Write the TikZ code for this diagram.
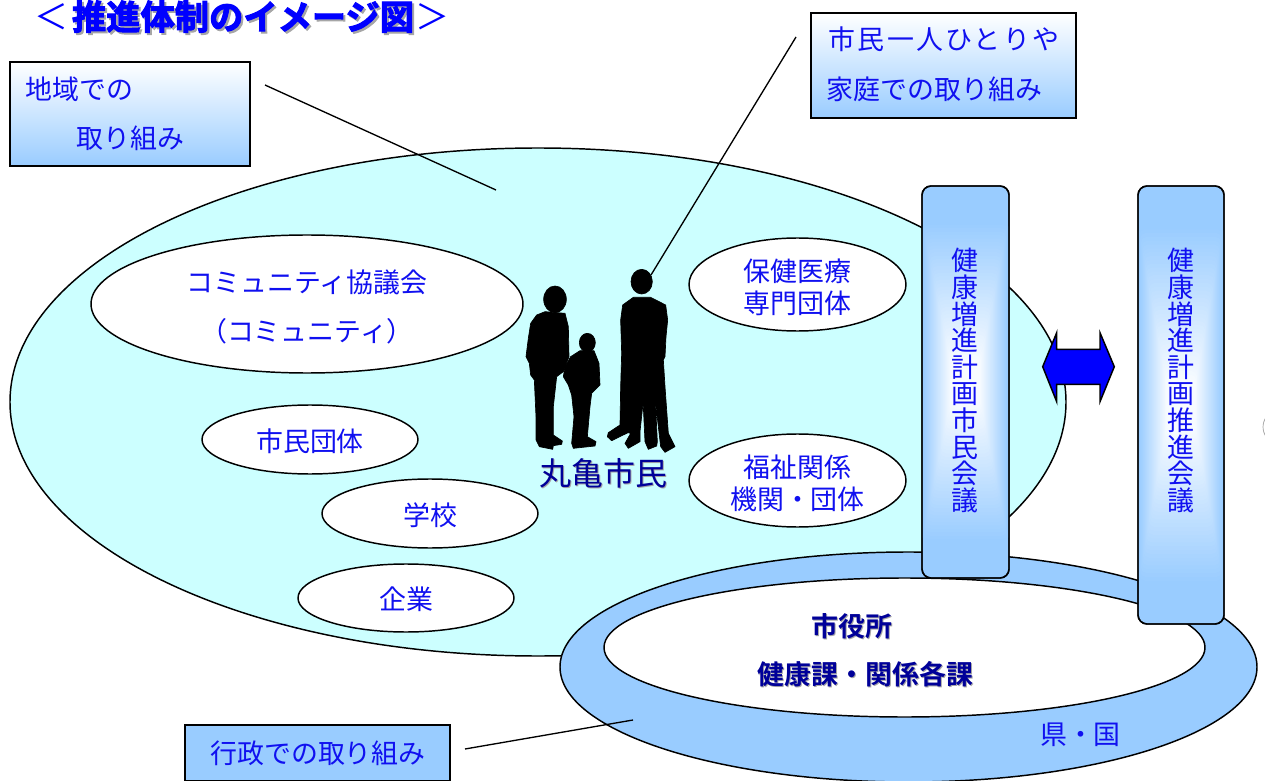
\documentclass[tikz,border=0pt]{standalone}
\usepackage{fontspec}
\setmainfont{Noto Sans CJK JP}
\newfontfamily\boldcjk[FakeBold=3]{Noto Sans CJK JP Bold}
\newfontfamily\semicjk{Noto Sans CJK JP Bold}
\newfontfamily\spacedcjk[LetterSpace=8.5]{Noto Sans CJK JP}
\definecolor{paleblue}{HTML}{99CCFF}
\definecolor{cyanfill}{HTML}{CCFFFF}
\definecolor{textblue}{HTML}{1010F0}
\definecolor{darkblue}{HTML}{000099}
\tikzset{
  x=0.75pt,y=-0.75pt,
  outline/.style={draw=black,line width=1.1pt},
  oval/.style={outline,fill=white},
  tight/.style={execute at begin node={\lineskiplimit=-100pt\lineskip=0pt}},
  label/.style={tight,text=textblue,font=\fontsize{20.2}{24}\selectfont,inner sep=0pt,align=center},
  gradbox/.style={draw=black,line width=1.1pt,top color=white,bottom color=paleblue,middle color=paleblue!50,shading angle=0},
  leader/.style={draw=black,line width=1pt},
  vtext/.style={tight,text=textblue,font=\fontsize{20.2}{19.95}\selectfont,inner sep=0pt,align=center},
  strong/.style={text=darkblue,font=\semicjk\fontsize{20.2}{24}\selectfont,inner sep=0pt,align=center},
  soft/.style={text=black!35,font=\semicjk\fontsize{20.2}{24}\selectfont,inner sep=0pt,align=center},
  figure/.style={fill=black,draw=black,line width=0.5pt,line join=round},
}
\newcommand{\glowbar}[4]{% x0 y0 x1 y1
  \draw[outline,rounded corners=6.75pt,fill=paleblue] (#1,#2) rectangle (#3,#4);
  \foreach \t in {0,1,...,40}{
    \pgfmathsetmacro{\ins}{0.18+\t*0.0175}
    \pgfmathsetmacro{\mixv}{min(100,\t*2.3)}
    \pgfmathsetmacro{\dx}{(#3-#1)/2*(0.02+\t*0.016)}
    \pgfmathsetmacro{\dy}{(#4-#2)/2*\ins}
    \fill[white!\mixv!paleblue,rounded corners=4pt]
      (#1+\dx,#2+\dy) rectangle (#3-\dx,#4-\dy);
  }
  \draw[outline,rounded corners=6.75pt] (#1,#2) rectangle (#3,#4);
}
\begin{document}
\begin{tikzpicture}
\useasboundingbox (0,0) rectangle (1265,781);
\clip (0,0) rectangle (1265,781);

% field ellipse
\draw[outline,fill=cyanfill] (538,402) ellipse [x radius=528,y radius=254];

% ring
\draw[outline,fill=paleblue] (908.5,667) ellipse [x radius=348.5,y radius=115];
\draw[outline,fill=white] (904.5,647.5) ellipse [x radius=300.5,y radius=69.5];

% ovals
\draw[oval] (307,304) ellipse [x radius=216,y radius=69];
\draw[oval] (310,439.5) ellipse [x radius=108,y radius=34.5];
\draw[oval] (430,513.5) ellipse [x radius=108,y radius=34.5];
\draw[oval] (406,598) ellipse [x radius=108,y radius=34];
\draw[oval] (797.5,284.5) ellipse [x radius=108.5,y radius=46.5];
\draw[oval] (797.5,480.5) ellipse [x radius=108.5,y radius=46.5];

\node[label] (t1) at (307,282) {コミュニティ協議会};
\node[label] (t2) at (307,331) {（コミュニティ）};
\node[label] (t3) at (310,441) {市民団体};
\node[label] (t4) at (430,515) {学校};
\node[label] (t5) at (406,599) {企業};
\node[label] (t6) at (797.5,287) {保健医療\\専門団体};
\node[label] (t7) at (797.5,483) {福祉関係\\機関・団体};

% bars
\glowbar{922}{186}{1009}{578}
\glowbar{1138}{186}{1224}{624}
\node[vtext] (v1) at (965,380.5) {健\\康\\増\\進\\計\\画\\市\\民\\会\\議};
\node[vtext] (v2) at (1181,380.5) {健\\康\\増\\進\\計\\画\\推\\進\\会\\議};

% double arrow
\draw[outline,fill=blue] (1042.7,366.7) -- (1056.7,332.7) -- (1056.7,349.3) -- (1100,349.3) -- (1100,332.7) -- (1114.3,366.7) -- (1100,401.7) -- (1100,384.3) -- (1056.7,384.3) -- (1056.7,401.7) -- cycle;

% boxes
\node[gradbox,minimum width=180pt,minimum height=78pt,inner sep=0pt] (b1) at (130,114) {};
\node[gradbox,minimum width=198.75pt,minimum height=78.75pt,inner sep=0pt] (b2) at (943.5,65.5) {};
\node[draw=black,line width=1.1pt,fill=paleblue,minimum width=198.75pt,minimum height=42pt,inner sep=0pt] (b3) at (317.5,753) {};
\node[label] at (79.5,89) {地域での};
\node[label] at (130.5,138) {取り組み};
\node[label,font=\spacedcjk\fontsize{20.2}{24}\selectfont] at (944,39) {市民一人ひとりや};
\node[label] at (934.5,89) {家庭での取り組み};
\node[label] at (318,753) {行政での取り組み};
\node[label] at (1080.5,735) {県・国};

% leaders
\coordinate (l1a) at (265,85); \coordinate (l1b) at (496,190);
\coordinate (l2a) at (796,37); \coordinate (l2b) at (651,275);
\coordinate (l3a) at (465,749); \coordinate (l3b) at (633,720);
\draw[leader] (l1a) -- (l1b);
\draw[leader] (l2a) -- (l2b);
\draw[leader] (l3a) -- (l3b);

% silhouettes
\begin{scope}[shift={(500,260)},x=0.25pt,y=-0.25pt]
\fill[figure] (165,118) ellipse [x radius=34,y radius=40];
\fill[figure] (110,165)--(135,155)--(195,160)--(205,200)--(207,290)--(190,335)--(170,350)--(160,440)--(160,525)--(187,543)--(185,553)--(160,557)--(158,568)--(118,560)--(108,540)--(108,470)--(103,360)--(92,345)--(88,310)--(78,290)--(85,235)--(92,190)--cycle;
\fill[figure] (262,248) ellipse [x radius=24,y radius=28];
\fill[figure] (240,272)--(282,272)--(297,310)--(300,375)--(275,400)--(270,440)--(262,530)--(288,545)--(285,558)--(220,565)--(215,550)--(222,470)--(215,405)--(205,375)--(190,350)--(195,320)--(212,290)--cycle;
\fill[figure] (425,65) ellipse [x radius=32,y radius=37];
\fill[figure] (400,112)--(452,112)--(497,135)--(503,180)--(498,230)--(495,290)--(490,300)--(495,380)--(505,520)--(525,560)--(495,577)--(482,560)--(468,440)--(467,440)--(472,545)--(470,558)--(445,568)--(435,545)--(430,440)--(428,440)--(420,515)--(420,545)--(385,565)--(375,550)--(392,520)--(384,518)--(335,542)--(322,530)--(325,518)--(360,495)--(362,380)--(365,280)--(362,180)--(368,135)--cycle;
\end{scope}

% strong labels
\node[soft,font=\fontsize{24}{28}\selectfont] at (604,474.5) {丸亀市民};
\node[text=darkblue,inner sep=0pt,font=\fontsize{24}{28}\selectfont] (city) at (603,473) {丸亀市民};
\node[soft] at (853,627.5) {市役所};
\node[strong] (s1) at (852,626) {市役所};
\node[soft] at (866.5,675.5) {健康課・関係各課};
\node[strong] (s2) at (865.5,674) {健康課・関係各課};

% title
\node[inner sep=0pt,text=black!35,font=\boldcjk\fontsize{25.7}{30}\selectfont] at (245,18.5) {推進体制のイメージ図};
\node[inner sep=0pt,text=blue,font=\boldcjk\fontsize{25.7}{30}\selectfont] (title) at (243,16.5) {推進体制のイメージ図};
\node[inner sep=0pt,text=blue,font=\fontsize{25.5}{30}\selectfont] at (52,16.5) {＜};
\node[inner sep=0pt,text=blue,font=\fontsize{25.5}{30}\selectfont] at (432,16.5) {＞};

% stray arc at page edge
\draw[black!40,line width=0.5pt] (1280,427) circle [radius=17];
\end{tikzpicture}
\end{document}
